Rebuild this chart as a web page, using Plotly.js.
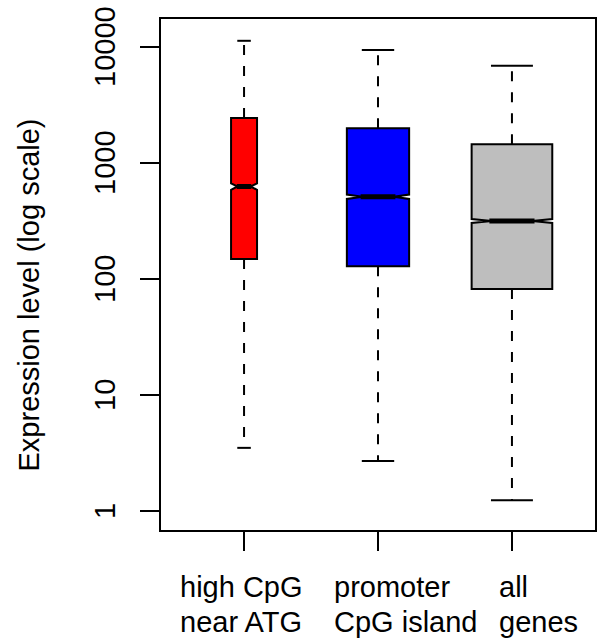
<!DOCTYPE html>
<html><head><meta charset="utf-8">
<script src="https://cdn.plot.ly/plotly-3.0.1.min.js"></script>
<style>html,body{margin:0;padding:0;background:#fff}</style>
</head><body><div id="chart" style="width:598px;height:640px"></div>
<script>
// ---- data ----
const categories = ["high CpG\nnear ATG", "promoter\nCpG island", "all\ngenes"];
const lowerWhisker = [3.5, 2.7, 1.24];
const q1 = [149, 129, 82];
const median = [627, 512, 316];
const q3 = [2440, 1990, 1450];
const upperWhisker = [11300, 9420, 6900];
const notchSpan = [40, 22, 12];
const yTickVals = [1, 10, 100, 1000, 10000];
const yTickText = ["1", "10", "100", "1000", "10000"];
const yTitle = "Expression level (log scale)";

// ---- styles ----
const fillColors = ["#FF0000", "#0000FF", "#BEBEBE"];
const boxWidths = [0.194, 0.465, 0.602];
const labelShift = [-66, -46, -15];
const FONT = "Liberation Sans, Arial, sans-serif";

const traces = [];
const annotations = [];
categories.forEach((cat, i) => {
  const pos = i + 1;
  const bw = boxWidths[i];
  traces.push({
    type: "box", x: [pos], q1: [q1[i]], median: [median[i]], q3: [q3[i]],
    lowerfence: [q1[i]], upperfence: [q3[i]],
    notched: true, notchspan: [notchSpan[i]], notchwidth: 0.25,
    width: bw, whiskerwidth: 0, boxpoints: false,
    fillcolor: fillColors[i], line: {color: "#000", width: 2},
    hoverinfo: "skip", showlegend: false
  });
  // dashed whiskers
  traces.push({
    type: "scatter", mode: "lines",
    x: [pos, pos, null, pos, pos],
    y: [q3[i], upperWhisker[i], null, q1[i], lowerWhisker[i]],
    line: {color: "#000", width: 2, dash: "10px,11px"},
    hoverinfo: "skip", showlegend: false
  });
  // whisker caps
  const cw = bw * 0.26;
  traces.push({
    type: "scatter", mode: "lines",
    x: [pos - cw, pos + cw, null, pos - cw, pos + cw],
    y: [upperWhisker[i], upperWhisker[i], null, lowerWhisker[i], lowerWhisker[i]],
    line: {color: "#000", width: 2},
    hoverinfo: "skip", showlegend: false
  });
  // thick median
  const mw = bw * 0.28;
  traces.push({
    type: "scatter", mode: "lines",
    x: [pos - mw, pos + mw], y: [median[i], median[i]],
    line: {color: "#000", width: 5},
    hoverinfo: "skip", showlegend: false
  });
  cat.split("\n").forEach((ln, j) => {
    annotations.push({
      text: ln, x: pos, xref: "x", y: 0, yref: "paper",
      xanchor: "left", yanchor: "top", xshift: labelShift[i], yshift: -39 - 35 * j,
      showarrow: false, align: "left",
      font: {family: FONT, size: 29, color: "#000"}
    });
  });
});

// y tick labels (rotated, R style)
yTickVals.forEach((v, k) => {
  annotations.push({
    text: yTickText[k], textangle: -90, x: 0, xref: "paper", y: Math.log10(v), yref: "y",
    xanchor: "center", yanchor: "middle", xshift: -56,
    showarrow: false, font: {family: FONT, size: 29, color: "#000"}
  });
});

annotations.push({
  text: yTitle, textangle: -90, x: 0, xref: "paper", y: 0.5, yref: "paper",
  xanchor: "center", yanchor: "middle", xshift: -133, yshift: -21,
  showarrow: false, font: {family: FONT, size: 29, color: "#000"}
});

const layout = {
  width: 598, height: 640,
  margin: {l: 161, r: 3, t: 19, b: 110},
  paper_bgcolor: "#fff", plot_bgcolor: "#fff",
  font: {family: FONT, size: 29, color: "#000"},
  boxmode: "overlay",
  showlegend: false,
  xaxis: {
    range: [0.38, 3.62], tickvals: [1, 2, 3], showticklabels: false,
    ticks: "outside", ticklen: 19, tickwidth: 2, tickcolor: "#000",
    showline: true, linewidth: 2, linecolor: "#000", mirror: true,
    showgrid: false, zeroline: false
  },
  yaxis: {
    type: "log", range: [-0.164, 4.241],
    tickvals: yTickVals, showticklabels: false,
    ticks: "outside", ticklen: 19, tickwidth: 2, tickcolor: "#000",
    showline: true, linewidth: 2, linecolor: "#000", mirror: true,
    showgrid: false, zeroline: false
  },
  annotations: annotations
};

Plotly.newPlot("chart", traces, layout, {staticPlot: true, displayModeBar: false});
</script>
</body></html>
